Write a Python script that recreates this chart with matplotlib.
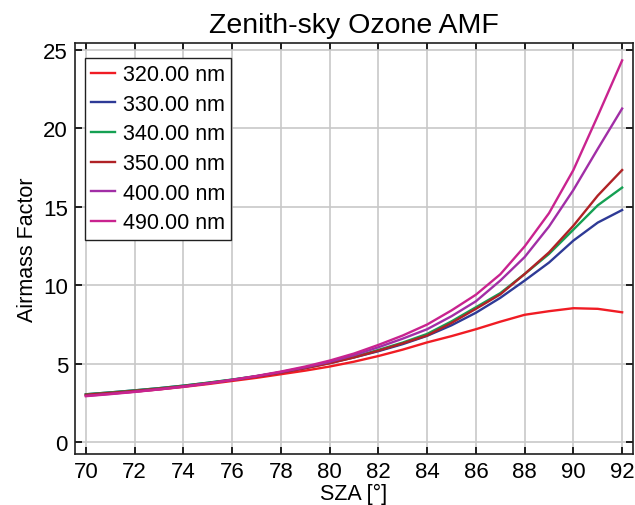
import numpy as np
import matplotlib
matplotlib.use('Agg')
from matplotlib import pyplot as plt

plt.rcParams['font.family'] = ['Liberation Sans', 'DejaVu Sans']

sza = list(range(70, 93))

amf_320 = [2.98, 3.10, 3.22, 3.36, 3.52, 3.70, 3.90, 4.10, 4.33, 4.56, 4.82, 5.13,
           5.49, 5.90, 6.36, 6.76, 7.20, 7.68, 8.12, 8.35, 8.54, 8.50, 8.28]
amf_330 = [3.05, 3.17, 3.30, 3.44, 3.60, 3.78, 3.98, 4.20, 4.45, 4.73, 5.04, 5.40,
           5.80, 6.25, 6.78, 7.45, 8.25, 9.20, 10.30, 11.45, 12.85, 14.00, 14.80]
amf_340 = [3.05, 3.17, 3.30, 3.44, 3.60, 3.79, 3.99, 4.21, 4.46, 4.75, 5.07, 5.44,
           5.88, 6.35, 6.90, 7.70, 8.60, 9.50, 10.72, 12.00, 13.55, 15.10, 16.23]
amf_350 = [3.02, 3.14, 3.27, 3.41, 3.57, 3.76, 3.96, 4.18, 4.43, 4.71, 5.03, 5.40,
           5.83, 6.30, 6.80, 7.60, 8.50, 9.42, 10.72, 12.10, 13.80, 15.72, 17.35]
amf_400 = [2.95, 3.08, 3.22, 3.37, 3.54, 3.74, 3.96, 4.20, 4.47, 4.77, 5.12, 5.55,
           6.05, 6.60, 7.20, 8.03, 8.98, 10.30, 11.80, 13.75, 16.08, 18.70, 21.27]
amf_490 = [2.93, 3.06, 3.20, 3.36, 3.54, 3.74, 3.97, 4.22, 4.50, 4.82, 5.20, 5.65,
           6.20, 6.80, 7.50, 8.40, 9.40, 10.70, 12.48, 14.60, 17.35, 20.80, 24.34]

wavelengths = ['320.00 nm', '330.00 nm', '340.00 nm', '350.00 nm', '400.00 nm', '490.00 nm']
series = [amf_320, amf_330, amf_340, amf_350, amf_400, amf_490]
colors = ['#f01c24', '#2e3a96', '#15a053', '#b02226', '#a12ea6', '#c9238f']

fig = plt.figure(figsize=(6.35, 5.06), dpi=100)
ax = fig.add_axes([0.118, 0.101, 0.879, 0.812])

for label, vals, col in zip(wavelengths, series, colors):
    ax.plot(sza, vals, color=col, lw=1.7, label=label)

ax.set_xlim(69.55, 92.45)
ax.set_ylim(-0.75, 25.45)
ax.set_xticks(range(70, 93, 2))
ax.set_yticks(range(0, 26, 5))
ax.grid(True, color='#c8c8c8', lw=1.2)
ax.set_axisbelow(True)
ax.tick_params(direction='in', top=True, right=True, length=5, width=1.2,
               labelsize=16, pad=5)
for sp in ax.spines.values():
    sp.set_linewidth(1.2)
    sp.set_color('#202020')

ax.set_title('Zenith-sky Ozone AMF', fontsize=20.5, pad=8)
ax.set_xlabel('SZA [°]', fontsize=15.5, labelpad=1)
ax.set_ylabel('Airmass Factor', fontsize=15.5, labelpad=4)

leg = ax.legend(loc='upper left', fontsize=15.5, handlelength=1.1, handletextpad=0.35,
                labelspacing=0.4, borderpad=0.3, borderaxespad=0, fancybox=False,
                framealpha=1, edgecolor='#202020', bbox_to_anchor=(0.018, 0.964))
leg.get_frame().set_linewidth(1.0)

fig.savefig('out.png', dpi=100)
